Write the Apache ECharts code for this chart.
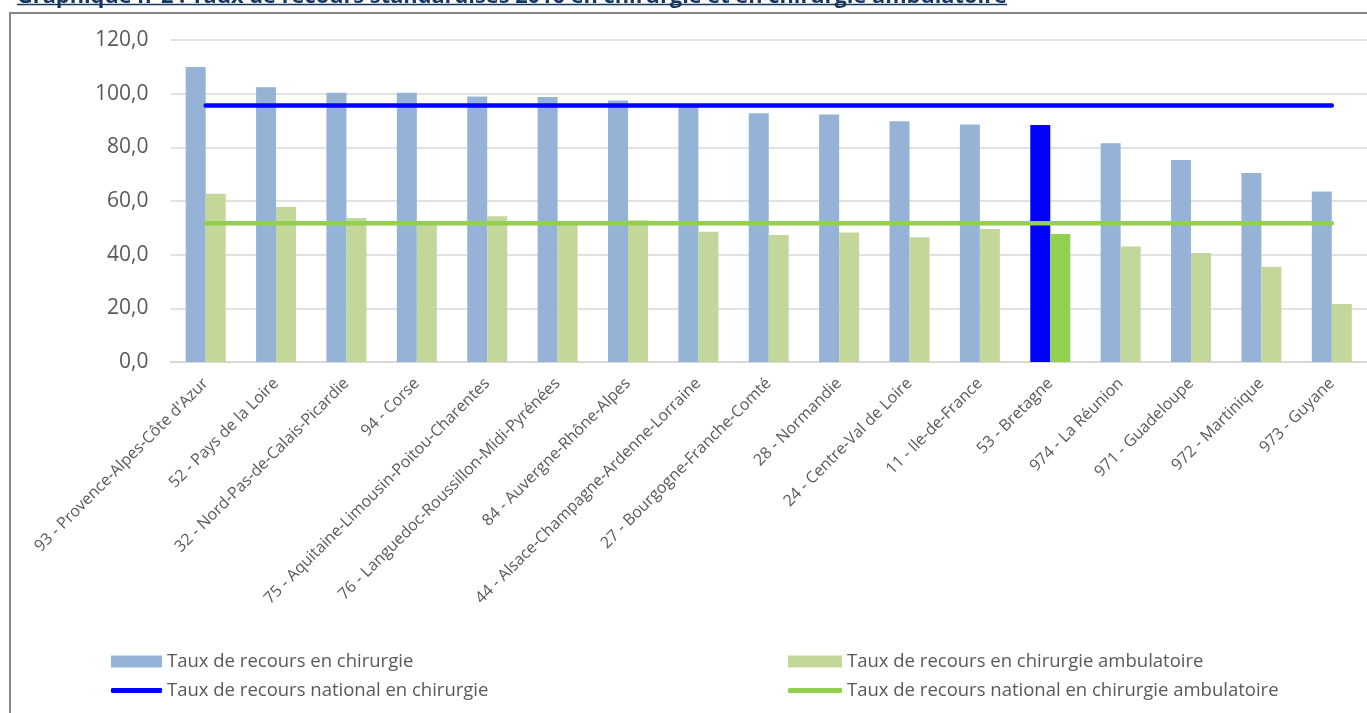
<!DOCTYPE html>
<html><head><meta charset="utf-8">
<script src="https://cdn.jsdelivr.net/npm/echarts@6/dist/echarts.min.js"></script>
<style>html,body{margin:0;padding:0;background:#fff}#c{width:1367px;height:713px}</style>
</head><body><div id="c"></div>
<script>
const categories = ["93 - Provence-Alpes-Côte d'Azur","52 - Pays de la Loire","32 - Nord-Pas-de-Calais-Picardie","94 - Corse","75 - Aquitaine-Limousin-Poitou-Charentes","76 - Languedoc-Roussillon-Midi-Pyrénées","84 - Auvergne-Rhône-Alpes","44 - Alsace-Champagne-Ardenne-Lorraine","27 - Bourgogne-Franche-Comté","28 - Normandie","24 - Centre-Val de Loire","11 - Ile-de-France","53 - Bretagne","974 - La Réunion","971 - Guadeloupe","972 - Martinique","973 - Guyane"];
const chirurgie = [109.9,102.4,100.3,100.3,98.9,98.8,97.5,95.0,92.7,92.2,89.7,88.5,88.3,81.5,75.3,70.4,63.5];
const ambulatoire = [62.7,57.8,53.7,51.5,54.3,51.8,52.8,48.5,47.3,48.3,46.5,49.6,47.7,43.0,40.6,35.5,21.6];
const nationalChirurgie = 95.6;
const nationalAmbulatoire = 51.7;
const highlighted = "53 - Bretagne";
const yTicks = [0,20,40,60,80,100,120];
const seriesNames = ["Taux de recours en chirurgie","Taux de recours en chirurgie ambulatoire","Taux de recours national en chirurgie","Taux de recours national en chirurgie ambulatoire"];
const titleText = "Graphique n°2 : Taux de recours standardisés 2016 en chirurgie et en chirurgie ambulatoire";

const C_BLUE='#95B3D7', C_GREEN='#C4D79B', C_BLUE_HI='#0000FF', C_GREEN_HI='#92D050';
const FONT = '"Open Sans", sans-serif';
const chart = echarts.init(document.getElementById('c'));
const mk = (vals, base, hi) => vals.map((v,i)=> categories[i]===highlighted ? {value:v,itemStyle:{color:hi}} : {value:v,itemStyle:{color:base}});
const legendCommon = {orient:'horizontal', padding:0, itemGap:5, textStyle:{color:'#595959', fontSize:18.5, fontFamily:FONT}, selectedMode:false};
chart.setOption({
  animation:false,
  graphic:[
    {type:'rect', shape:{x:10,y:13,width:1400,height:760}, style:{fill:'none', stroke:'#878787', lineWidth:2}, silent:true},
    {type:'text', x:17, y:8, style:{text:titleText, font:'bold 21.8px '+FONT, fill:'#17375E', textVerticalAlign:'bottom'}},
    {type:'line', shape:{x1:17,y1:4.5,x2:1007,y2:4.5}, style:{stroke:'#17375E', lineWidth:1.5}}
  ],
  grid:{left:170.5, top:40, width:1208.7, height:322, containLabel:false},
  legend:[
    Object.assign({data:[seriesNames[0]], left:111, top:652, itemWidth:51, itemHeight:12, icon:'rect'}, legendCommon),
    Object.assign({data:[seriesNames[1]], left:788, top:652, itemWidth:54, itemHeight:12, icon:'rect'}, legendCommon),
    Object.assign({data:[seriesNames[2]], left:111, top:681, itemWidth:51, itemHeight:5, icon:'roundRect'}, legendCommon),
    Object.assign({data:[seriesNames[3]], left:788, top:681, itemWidth:54, itemHeight:5, icon:'roundRect'}, legendCommon)
  ],
  xAxis:{type:'category', data:categories, boundaryGap:true,
    axisLine:{lineStyle:{color:'#D9D9D9', width:2}}, axisTick:{show:false},
    axisLabel:{interval:0, rotate:45, margin:19, color:'#595959', fontSize:16, fontFamily:FONT}},
  yAxis:{type:'value', min:0, max:120, interval:20,
    axisLine:{show:false}, axisTick:{show:false},
    splitLine:{lineStyle:{color:'#D9D9D9', width:1.5}},
    axisLabel:{margin:22, color:'#595959', fontSize:21, fontFamily:FONT, formatter:v=>v.toFixed(1).replace('.',',')}},
  series:[
    {name:seriesNames[0], type:'bar', data:mk(chirurgie,C_BLUE,C_BLUE_HI), barWidth:20, barGap:'0%', itemStyle:{color:C_BLUE}},
    {name:seriesNames[1], type:'bar', data:mk(ambulatoire,C_GREEN,C_GREEN_HI), barWidth:20, barGap:'0%', itemStyle:{color:C_GREEN}},
    {name:seriesNames[2], type:'line', data:categories.map(()=>nationalChirurgie), symbol:'none', itemStyle:{color:C_BLUE_HI}, lineStyle:{color:C_BLUE_HI, width:4.5, cap:'round'}},
    {name:seriesNames[3], type:'line', data:categories.map(()=>nationalAmbulatoire), symbol:'none', itemStyle:{color:C_GREEN_HI}, lineStyle:{color:C_GREEN_HI, width:4.5, cap:'round'}}
  ]
});
</script></body></html>
